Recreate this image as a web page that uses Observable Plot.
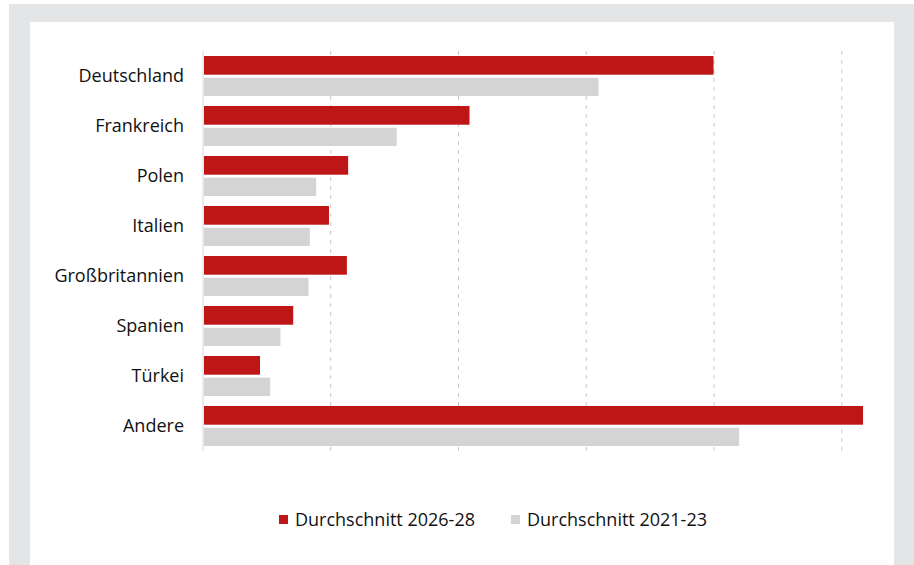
<!DOCTYPE html>
<html>
<head>
<meta charset="utf-8">
<script src="https://cdn.jsdelivr.net/npm/d3@7"></script>
<script src="https://cdn.jsdelivr.net/npm/@observablehq/plot@0.6"></script>
<style>
  html, body { margin: 0; padding: 0; background: #ffffff; overflow: hidden; }
  #frame { position: absolute; left: 9px; top: 4px; width: 920px; height: 580px; background: #e4e5e7; }
  #panel { position: absolute; left: 30px; top: 22px; width: 864px; height: 560px; background: #ffffff; }
  #chart { position: absolute; left: 0; top: 0; }
  #legend { position: absolute; left: 31px; top: 485px; width: 864px; display: flex; justify-content: center; gap: 36px;
            font-family: "Open Sans", sans-serif; font-size: 18px; color: #111111; }
  .item { display: flex; align-items: center; gap: 7px; }
  .sw { width: 9px; height: 9px; display: inline-block; }
</style>
</head>
<body>
<div id="frame"></div>
<div id="panel">
  <div id="chart"></div>
  <div id="legend"></div>
</div>
<script>
const countries = ["Deutschland", "Frankreich", "Polen", "Italien", "Großbritannien", "Spanien", "Türkei", "Andere"];
const avg2026_28 = [4.0, 2.09, 1.14, 0.99, 1.13, 0.71, 0.45, 5.17];
const avg2021_23 = [3.1, 1.52, 0.89, 0.84, 0.83, 0.61, 0.53, 4.2];
const gridTicks = [1, 2, 3, 4, 5];
const seriesNames = ["Durchschnitt 2026-28", "Durchschnitt 2021-23"];
const seriesColors = ["#be1616", "#d4d4d4"];

const rows26 = countries.map((c, i) => ({country: c, value: avg2026_28[i]}));
const rows21 = countries.map((c, i) => ({country: c, value: avg2021_23[i]}));

const chart = Plot.plot({
  width: 864,
  height: 464,
  marginTop: 29,
  marginBottom: 35,
  marginLeft: 172.5,
  marginRight: 52.7,
  style: {fontFamily: "'Open Sans', sans-serif", fontSize: "18px", color: "#111111", background: "transparent"},
  x: {domain: [0, 5], axis: null},
  y: {domain: countries, padding: 0, label: null, axis: null},
  marks: [
    Plot.ruleX(gridTicks, {stroke: "#c8c8c8", strokeWidth: 1, strokeDasharray: "4,5"}),
    Plot.ruleX([0], {stroke: "#d6d6d6", strokeWidth: 1}),
    Plot.barX(rows26, {y: "country", x: "value", fill: seriesColors[0], insetTop: 5, insetBottom: 26.3, insetLeft: 1.5}),
    Plot.barX(rows21, {y: "country", x: "value", fill: seriesColors[1], insetTop: 26.7, insetBottom: 5, insetLeft: 1.5}),
    Plot.axisY({tickSize: 0, tickPadding: 19, fontSize: 18, fill: "#111111", label: null, dy: -0.5})
  ]
});
document.getElementById("chart").appendChild(chart);

const legend = d3.select("#legend");
seriesNames.forEach((name, i) => {
  const it = legend.append("div").attr("class", "item");
  it.append("span").attr("class", "sw").style("background", seriesColors[i]);
  it.append("span").text(name);
});
</script>
</body>
</html>
